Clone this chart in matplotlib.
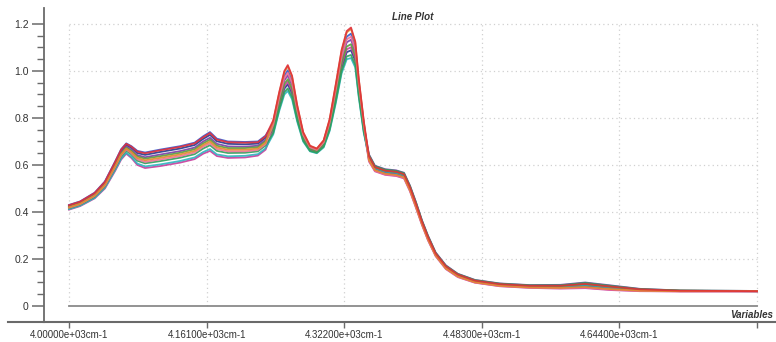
import matplotlib
matplotlib.use("Agg")
import matplotlib.pyplot as plt
from matplotlib.lines import Line2D

plt.rcParams['font.family'] = ['Liberation Sans', 'DejaVu Sans']

# ---------------- data ----------------
wavenumber = [4000, 4013, 4030, 4042, 4054, 4061, 4067, 4073, 4080, 4089,
              4106, 4130, 4147, 4157, 4165, 4173, 4186, 4206, 4221, 4230,
              4239, 4246, 4252, 4256, 4261, 4267, 4274, 4282, 4290, 4298,
              4305, 4312, 4319, 4325, 4330, 4335, 4339, 4345, 4351, 4358,
              4370, 4383, 4392, 4399, 4406, 4413, 4420, 4429, 4441, 4455,
              4475, 4504, 4539, 4575, 4604, 4633, 4668, 4715, 4805]

spectrum_01 = [0.429, 0.444, 0.481, 0.528, 0.613, 0.665, 0.690, 0.678, 0.657, 0.650,
               0.662, 0.677, 0.692, 0.718, 0.736, 0.708, 0.697, 0.695, 0.697, 0.722,
               0.790, 0.910, 1.000, 1.025, 0.980, 0.855, 0.740, 0.682, 0.670, 0.705,
               0.795, 0.940, 1.090, 1.170, 1.185, 1.125, 0.970, 0.785, 0.638, 0.591,
               0.576, 0.571, 0.561, 0.506, 0.436, 0.360, 0.295, 0.224, 0.169, 0.134,
               0.108, 0.093, 0.086, 0.086, 0.094, 0.083, 0.071, 0.065, 0.063]
spectrum_02 = [0.430, 0.445, 0.482, 0.530, 0.615, 0.667, 0.692, 0.680, 0.660, 0.653,
               0.665, 0.680, 0.695, 0.722, 0.740, 0.712, 0.700, 0.698, 0.700, 0.725,
               0.778, 0.894, 0.980, 1.003, 0.960, 0.841, 0.732, 0.677, 0.666, 0.699,
               0.785, 0.924, 1.070, 1.146, 1.159, 1.103, 0.954, 0.775, 0.626, 0.581,
               0.566, 0.561, 0.551, 0.496, 0.426, 0.352, 0.287, 0.218, 0.163, 0.128,
               0.103, 0.088, 0.081, 0.080, 0.084, 0.075, 0.067, 0.063, 0.063]
spectrum_03 = [0.416, 0.431, 0.465, 0.509, 0.587, 0.636, 0.661, 0.645, 0.618, 0.607,
               0.616, 0.631, 0.646, 0.670, 0.684, 0.660, 0.651, 0.652, 0.658, 0.683,
               0.736, 0.838, 0.910, 0.926, 0.890, 0.792, 0.704, 0.660, 0.652, 0.678,
               0.750, 0.868, 1.000, 1.062, 1.068, 1.026, 0.898, 0.740, 0.642, 0.595,
               0.580, 0.575, 0.565, 0.510, 0.440, 0.363, 0.298, 0.226, 0.171, 0.136,
               0.110, 0.095, 0.088, 0.088, 0.098, 0.086, 0.072, 0.066, 0.064]
spectrum_04 = [0.410, 0.425, 0.458, 0.500, 0.575, 0.623, 0.648, 0.630, 0.600, 0.587,
               0.595, 0.610, 0.625, 0.648, 0.660, 0.638, 0.630, 0.632, 0.640, 0.665,
               0.751, 0.858, 0.935, 0.954, 0.915, 0.810, 0.714, 0.666, 0.657, 0.686,
               0.763, 0.888, 1.025, 1.092, 1.101, 1.054, 0.918, 0.753, 0.615, 0.573,
               0.558, 0.553, 0.543, 0.488, 0.418, 0.345, 0.280, 0.212, 0.157, 0.123,
               0.099, 0.084, 0.077, 0.074, 0.076, 0.068, 0.063, 0.062, 0.062]
spectrum_05 = [0.412, 0.427, 0.460, 0.503, 0.579, 0.627, 0.652, 0.635, 0.606, 0.594,
               0.602, 0.617, 0.632, 0.655, 0.668, 0.645, 0.637, 0.639, 0.646, 0.671,
               0.730, 0.830, 0.900, 0.915, 0.880, 0.785, 0.700, 0.658, 0.650, 0.675,
               0.745, 0.860, 0.990, 1.050, 1.055, 1.015, 0.890, 0.735, 0.633, 0.587,
               0.572, 0.567, 0.557, 0.502, 0.432, 0.357, 0.292, 0.222, 0.167, 0.131,
               0.106, 0.091, 0.084, 0.084, 0.090, 0.080, 0.069, 0.064, 0.063]
spectrum_06 = [0.424, 0.439, 0.475, 0.521, 0.603, 0.654, 0.679, 0.665, 0.642, 0.633,
               0.644, 0.659, 0.674, 0.700, 0.716, 0.690, 0.679, 0.678, 0.682, 0.707,
               0.766, 0.878, 0.960, 0.981, 0.940, 0.827, 0.724, 0.672, 0.662, 0.693,
               0.775, 0.908, 1.050, 1.122, 1.133, 1.081, 0.938, 0.765, 0.645, 0.597,
               0.582, 0.577, 0.567, 0.512, 0.442, 0.365, 0.300, 0.228, 0.173, 0.137,
               0.111, 0.096, 0.089, 0.090, 0.100, 0.088, 0.073, 0.066, 0.064]
spectrum_07 = [0.420, 0.435, 0.470, 0.515, 0.595, 0.645, 0.670, 0.655, 0.630, 0.620,
               0.630, 0.645, 0.660, 0.685, 0.700, 0.675, 0.665, 0.665, 0.670, 0.695,
               0.787, 0.906, 0.995, 1.020, 0.975, 0.852, 0.738, 0.681, 0.669, 0.704,
               0.793, 0.936, 1.085, 1.164, 1.179, 1.120, 0.966, 0.783, 0.621, 0.578,
               0.563, 0.558, 0.548, 0.493, 0.423, 0.349, 0.284, 0.215, 0.160, 0.126,
               0.101, 0.086, 0.079, 0.077, 0.081, 0.072, 0.065, 0.063, 0.063]
spectrum_08 = [0.427, 0.442, 0.478, 0.526, 0.609, 0.660, 0.685, 0.673, 0.651, 0.643,
               0.655, 0.670, 0.685, 0.711, 0.728, 0.701, 0.690, 0.688, 0.691, 0.716,
               0.745, 0.850, 0.925, 0.943, 0.905, 0.803, 0.710, 0.664, 0.655, 0.683,
               0.758, 0.880, 1.015, 1.080, 1.088, 1.043, 0.910, 0.748, 0.630, 0.585,
               0.570, 0.565, 0.555, 0.500, 0.430, 0.355, 0.290, 0.220, 0.165, 0.130,
               0.105, 0.090, 0.083, 0.082, 0.088, 0.078, 0.068, 0.064, 0.063]
spectrum_09 = [0.418, 0.433, 0.468, 0.512, 0.591, 0.641, 0.666, 0.650, 0.624, 0.613,
               0.623, 0.638, 0.653, 0.678, 0.692, 0.668, 0.658, 0.658, 0.664, 0.689,
               0.772, 0.886, 0.970, 0.992, 0.950, 0.834, 0.728, 0.675, 0.664, 0.696,
               0.780, 0.916, 1.060, 1.134, 1.146, 1.092, 0.946, 0.770, 0.618, 0.575,
               0.560, 0.555, 0.545, 0.490, 0.420, 0.347, 0.282, 0.214, 0.159, 0.124,
               0.100, 0.085, 0.078, 0.076, 0.078, 0.070, 0.064, 0.062, 0.062]
spectrum_10 = [0.422, 0.437, 0.472, 0.518, 0.599, 0.649, 0.674, 0.660, 0.636, 0.627,
               0.637, 0.652, 0.667, 0.692, 0.708, 0.682, 0.672, 0.672, 0.676, 0.701,
               0.757, 0.866, 0.945, 0.965, 0.925, 0.817, 0.718, 0.669, 0.659, 0.689,
               0.768, 0.896, 1.035, 1.104, 1.114, 1.065, 0.926, 0.758, 0.636, 0.590,
               0.575, 0.570, 0.560, 0.505, 0.435, 0.359, 0.294, 0.223, 0.168, 0.133,
               0.107, 0.092, 0.085, 0.085, 0.093, 0.082, 0.070, 0.065, 0.063]

spectra = [spectrum_08, spectrum_04, spectrum_06, spectrum_02, spectrum_05,
           spectrum_10, spectrum_03, spectrum_09, spectrum_07, spectrum_01]
colors = ['#243a8c', '#c83c9c', '#7a3ca8', '#3558d0', '#2fb4bf',
          '#5a9e3c', '#2ea05a', '#ef6f96', '#e08a2e', '#e0303a']

x_ticks = [4000, 4161, 4322, 4483, 4644, 4805]
x_tick_labels = ['4.00000e+03cm-1', '4.16100e+03cm-1', '4.32200e+03cm-1',
                 '4.48300e+03cm-1', '4.64400e+03cm-1', '']
y_ticks = [0, 0.2, 0.4, 0.6, 0.8, 1.0, 1.2]
y_tick_labels = ['0', '0.2', '0.4', '0.6', '0.8', '1.0', '1.2']

# ---------------- figure ----------------
W, H = 776, 342
fig = plt.figure(figsize=(W / 100, H / 100), dpi=100)
ax = fig.add_axes([44 / W, 20 / H, (W - 44) / W, 314 / H])

ax.set_xlim(3970.75, 4827.3)
ax.set_ylim(-0.0681, 1.268)

# grid (dotted, only inside the data box)
grid_c = '#d0d0d0'
for yv in y_ticks[1:]:
    ax.plot([x_ticks[0], x_ticks[-1]], [yv, yv], ls=(0, (1, 2.5)), color=grid_c, lw=0.9, zorder=1)
for xv in x_ticks:
    ax.plot([xv, xv], [0, y_ticks[-1]], ls=(0, (1, 2.5)), color=grid_c, lw=0.9, zorder=1)
# zero line
ax.plot([x_ticks[0], x_ticks[-1]], [0, 0], color='#8a8a8a', lw=1.3, zorder=1)

for s, c in zip(spectra, colors):
    ax.plot(wavenumber, s, color=c, lw=1.3, zorder=3, alpha=0.9,
            solid_joinstyle='round')

for side in ('top', 'right'):
    ax.spines[side].set_visible(False)
ax.spines['left'].set_color('#6a6a6a')
ax.spines['left'].set_linewidth(1.3)
ax.spines['bottom'].set_color('#6a6a6a')
ax.spines['bottom'].set_linewidth(1.5)
fig.add_artist(Line2D([8 / W, 44 / W], [20 / H, 20 / H], color='#6a6a6a', lw=1.5))

ax.set_yticks(y_ticks)
ax.set_yticklabels(y_tick_labels)
ax.set_yticks([v / 100 for v in range(0, 125, 5) if v % 20 != 0], minor=True)
ax.tick_params(axis='y', which='major', direction='out', length=9, width=1.1,
               color='#6a6a6a', labelsize=7.5, labelcolor='#333333', pad=2)
ax.tick_params(axis='y', which='minor', direction='out', length=5, width=1.0, color='#6a6a6a')

ax.set_xticks(x_ticks)
ax.set_xticklabels(x_tick_labels)
ax.tick_params(axis='x', which='major', direction='out', length=4, width=1.0,
               color='#6a6a6a', labelsize=7, labelcolor='#333333', pad=2)
ax.tick_params(axis='x', which='minor', length=0)

fig.text(413 / W, 1 - 17 / H, 'Line Plot', ha='center', va='center',
         fontsize=7, style='italic', weight='bold', color='#333333')
fig.text(773 / W, 1 - 315 / H, 'Variables', ha='right', va='center',
         fontsize=7, style='italic', weight='bold', color='#333333')

fig.savefig('out.png', dpi=100)
